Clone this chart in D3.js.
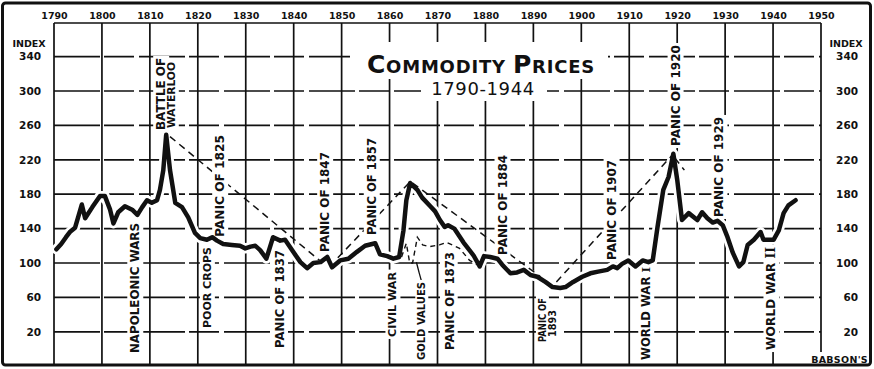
<!DOCTYPE html>
<html>
<head>
<meta charset="utf-8">
<script src="https://cdn.jsdelivr.net/npm/d3@7"></script>
<style>
  html, body { margin: 0; padding: 0; background: #fff; }
  svg { display: block; font-family: "DejaVu Sans", sans-serif; }
</style>
</head>
<body>
<svg id="chart" width="874" height="369"></svg>
<script>
// Babson's index of commodity prices, 1790-1944
const years = [1790.5, 1791.5, 1792.5, 1793.3, 1794.4, 1795.8, 1796.5, 1798, 1799.6, 1800.6,
  1801.7, 1802.4, 1803.4, 1804.8, 1806.3, 1807.4, 1808.4, 1809.4, 1810.4, 1811.5,
  1812.1, 1812.8, 1813.4, 1814.2, 1815.3, 1816.7, 1818, 1819.4, 1820.5, 1821.9,
  1823, 1824, 1825.3, 1827.1, 1828.8, 1829.9, 1831, 1832, 1833, 1834.3,
  1835.7, 1837.2, 1838.2, 1839.9, 1841.4, 1842.8, 1844.1, 1845.6, 1847, 1848,
  1849.7, 1851.4, 1853.2, 1854.9, 1857, 1858, 1859.5, 1860.8, 1862, 1862.9,
  1863.5, 1864.3, 1865.8, 1866.8, 1868.5, 1869.5, 1870.5, 1871.5, 1872.2, 1873.5,
  1875.4, 1877.5, 1878.8, 1879.7, 1881, 1882.5, 1883.5, 1885.2, 1886.6, 1888,
  1889.4, 1890.8, 1892.5, 1894, 1895.6, 1896.7, 1898.3, 1900.2, 1901.9, 1903.5,
  1905.4, 1906.6, 1907.5, 1908.5, 1909.8, 1911.3, 1912.8, 1914, 1914.9, 1915.9,
  1917.1, 1918.2, 1919.2, 1920, 1921, 1922.4, 1924.2, 1925.2, 1926.3, 1927.4,
  1928.4, 1929.5, 1930.5, 1931.6, 1932.9, 1933.8, 1934.7, 1936, 1937.4, 1938,
  1940.1, 1941.2, 1942.2, 1943.2, 1944.7];
const priceIndex = [116, 122, 130, 136, 141, 168, 152, 165, 178, 178,
  162, 146, 159, 166, 162, 156, 165, 173, 170, 173,
  185, 208, 249, 208, 170, 165, 153, 135, 129, 127,
  130, 126, 122, 121, 120, 117, 119, 120, 115, 105,
  130, 126, 127, 113, 101, 94, 100, 101, 107, 95,
  103, 105, 113, 120, 123, 110, 108, 105, 107, 138,
  173, 193, 185, 176, 166, 160, 150, 142, 144, 140,
  124, 109, 96, 108, 107, 105, 98, 88, 89, 92,
  86, 84, 78, 72, 71, 72, 78, 84, 88, 90,
  92, 96, 94, 99, 103, 96, 103, 101, 103, 142,
  185, 200, 227, 197, 150, 158, 150, 159, 152, 147,
  149, 144, 130, 112, 96, 101, 121, 127, 136, 127,
  127, 138, 158, 167, 173];

// Prices measured in gold during the greenback years
const goldYears = [1862.5, 1863.5, 1864.2, 1864.8, 1865.8, 1866.9, 1868.3, 1870.4, 1871.9, 1873.1, 1874.6, 1876.7, 1878.3];
const goldIndex = [107, 123, 100, 100, 130, 121, 119, 121, 124, 121, 117, 103, 98];

// Long-swing trend lines: [fromYear, fromIndex, toYear, toIndex]
const trendLines = [
  [1814.2, 247, 1845.4, 103],
  [1849.2, 106, 1864.2, 194],
  [1864.8, 193, 1891.5, 84],
  [1894.8, 78, 1918.9, 225],
  [1919.5, 222, 1921.5, 208]
];

// Event annotations: text, year, index where the text begins and ends (read upward)
const eventText = ["NAPOLEONIC WARS", "BATTLE OF", "WATERLOO", "POOR CROPS", "PANIC OF 1825",
  "PANIC OF 1837", "PANIC OF 1847", "PANIC OF 1857", "CIVIL WAR", "GOLD VALUES",
  "PANIC OF 1873", "PANIC OF 1884", "PANIC OF", "1893", "PANIC OF 1907",
  "WORLD WAR I", "PANIC OF 1920", "PANIC OF 1929", "WORLD WAR II"];
const eventYear = [1806.9, 1812.3, 1814.4, 1821.9, 1824.6,
  1837.1, 1846.5, 1856.25, 1860.6, 1866.7,
  1872.5, 1883.5, 1891.9, 1894.0, 1906.25,
  1913.5, 1919.6, 1928.75, 1939.6];
const eventFrom = [-4.7, 254.7, 257, 24.4, 130.2,
  1.2, 112.8, 132.6, 14, -12.8,
  -1.2, 109.3, 8.1, 14, 103.5,
  -12.8, 236, 153.5, -1.2];
const eventTo = [146.5, 338.4, 333.7, 118.6, 248.8,
  115.1, 229, 245.3, 89.5, 77.9,
  112.8, 225.6, 59.3, 45.3, 219.8,
  95.3, 353.5, 269.8, 118.6];
// pointer from the GOLD VALUES caption to its curve
const goldPointer = [[1866.7, 78], [1866.1, 90], [1865.6, 101]];

const decadeTicks = d3.range(1790, 1951, 10);
const indexTicks = [20, 60, 100, 140, 180, 220, 260, 300, 340];

const svg = d3.select("#chart");
const x = d3.scaleLinear().domain([1790, 1950]).range([54, 821]);
const y = d3.scaleLinear().domain([0, 340]).range([349, 56.6]);
const plotTop = 23, plotBottom = 364;
const ink = "#111";

svg.append("rect").attr("width", 874).attr("height", 369).attr("fill", "#fff");

// grid
const grid = svg.append("g").attr("stroke", ink).attr("fill", "none");
grid.selectAll("line.v").data(decadeTicks).join("line")
  .attr("class", "v")
  .attr("x1", d => x(d)).attr("x2", d => x(d))
  .attr("y1", plotTop).attr("y2", plotBottom)
  .attr("stroke-width", 1.7);
grid.selectAll("line.h").data(indexTicks).join("line")
  .attr("class", "h")
  .attr("x1", x(1790)).attr("x2", x(1950))
  .attr("y1", d => y(d)).attr("y2", d => y(d))
  .attr("stroke-width", 1.7)
  .attr("stroke-dasharray", "46 4 30 5");
grid.append("line")
  .attr("x1", x(1790)).attr("x2", x(1950))
  .attr("y1", plotTop).attr("y2", plotTop)
  .attr("stroke-width", 1.7);

const line = d3.line().x(d => x(d[0])).y(d => y(d[1]));
const series = years.map((yr, i) => [yr, priceIndex[i]]);

// white halo under the price curve
svg.append("path").datum(series)
  .attr("d", line)
  .attr("fill", "none").attr("stroke", "#fff")
  .attr("stroke-width", 10).attr("stroke-linejoin", "round").attr("stroke-linecap", "round");

// trend lines
svg.append("g").selectAll("line").data(trendLines).join("line")
  .attr("x1", d => x(d[0])).attr("y1", d => y(d[1]))
  .attr("x2", d => x(d[2])).attr("y2", d => y(d[3]))
  .attr("stroke", ink).attr("stroke-width", 1.5)
  .attr("stroke-dasharray", "7 5");

// gold-value curve
svg.append("path").datum(goldYears.map((yr, i) => [yr, goldIndex[i]]))
  .attr("d", line)
  .attr("fill", "none").attr("stroke", ink)
  .attr("stroke-width", 1.4).attr("stroke-dasharray", "5 4");
svg.append("path").datum(goldPointer)
  .attr("d", d3.line().x(d => x(d[0])).y(d => y(d[1])).curve(d3.curveBasis))
  .attr("fill", "none").attr("stroke", ink).attr("stroke-width", 1.3);

// title block
svg.append("rect").attr("x", 350).attr("y", 42).attr("width", 258).attr("height", 37).attr("fill", "#fff");
svg.append("rect").attr("x", 421).attr("y", 79).attr("width", 126).attr("height", 22).attr("fill", "#fff");
const title = svg.append("text")
  .attr("x", 481).attr("y", 73)
  .attr("text-anchor", "middle")
  .attr("font-weight", "bold").attr("fill", ink)
  .attr("letter-spacing", 0.8);
title.append("tspan").attr("font-size", 25).text("C");
title.append("tspan").attr("font-size", 18).text("OMMODITY ");
title.append("tspan").attr("font-size", 25).text("P");
title.append("tspan").attr("font-size", 18).text("RICES");
svg.append("text")
  .attr("x", 483).attr("y", 95)
  .attr("text-anchor", "middle")
  .attr("font-size", 18).attr("fill", ink)
  .attr("letter-spacing", 0.6)
  .text("1790-1944");

// event annotations: white backing boxes first, then all captions on top
const boxLayer = svg.append("g");
const textLayer = svg.append("g");
eventText.forEach((t, i) => {
  const len = y(eventFrom[i]) - y(eventTo[i]);
  const tf = `translate(${x(eventYear[i])},${y(eventFrom[i])}) rotate(-90)`;
  const g = textLayer.append("g").attr("transform", tf);
  const txt = g.append("text")
    .attr("dy", "0.36em")
    .attr("font-size", 12).attr("font-weight", "bold").attr("fill", ink);
  const m = t.match(/^(WORLD WAR )(I+)$/);
  if (m) {
    txt.append("tspan").text(m[1]);
    txt.append("tspan").attr("font-family", "DejaVu Serif").text(m[2]);
  } else {
    txt.text(t);
  }
  // shrink the type for captions that are set much tighter
  const natural = txt.node().getComputedTextLength();
  const fs = 12 * Math.max(0.8, Math.min(1, len / natural));
  txt.attr("font-size", fs)
    .attr("textLength", len).attr("lengthAdjust", "spacingAndGlyphs");
  const b = txt.node().getBBox();
  boxLayer.append("rect").attr("transform", tf)
    .attr("x", b.x - 2).attr("y", b.y - 1)
    .attr("width", b.width + 4).attr("height", b.height + 2)
    .attr("fill", "#fff");
});

// price curve
svg.append("path").datum(series)
  .attr("d", line)
  .attr("fill", "none").attr("stroke", ink)
  .attr("stroke-width", 4.5).attr("stroke-linejoin", "round").attr("stroke-linecap", "round");

// axes
const styleAxis = g => {
  g.select(".domain").remove();
  g.selectAll("text").attr("font-family", "DejaVu Sans").attr("font-weight", "bold").attr("fill", ink);
};
svg.append("g").attr("transform", "translate(0,19)")
  .call(d3.axisTop(x).tickValues(decadeTicks).tickFormat(d3.format("d")).tickSize(0).tickPadding(0))
  .call(styleAxis)
  .selectAll("text").attr("font-size", 9.5);
svg.append("g").attr("transform", "translate(41,0)")
  .call(d3.axisLeft(y).tickValues(indexTicks).tickSize(0).tickPadding(0))
  .call(styleAxis)
  .selectAll("text").attr("font-size", 10.5);
svg.append("g").attr("transform", "translate(858,0)")
  .call(d3.axisRight(y).tickValues(indexTicks).tickSize(0).tickPadding(0))
  .call(styleAxis)
  .selectAll("text").attr("font-size", 10.5).attr("text-anchor", "end");

[[29, 47], [846, 47]].forEach(p => {
  svg.append("text").attr("x", p[0]).attr("y", p[1])
    .attr("text-anchor", "middle").attr("font-size", 9.5).attr("font-weight", "bold")
    .attr("fill", ink).text("INDEX");
});

svg.append("rect").attr("x", 804).attr("y", 352).attr("width", 64).attr("height", 12).attr("fill", "#fff");
svg.append("text").attr("x", 868).attr("y", 363)
  .attr("text-anchor", "end").attr("font-size", 9.5).attr("font-weight", "bold")
  .attr("letter-spacing", 0.3).attr("fill", ink).text("BABSON'S");

// frame
svg.append("rect").attr("x", 2.5).attr("y", 3).attr("width", 868).attr("height", 362)
  .attr("rx", 3).attr("fill", "none").attr("stroke", ink).attr("stroke-width", 3);
</script>
</body>
</html>
